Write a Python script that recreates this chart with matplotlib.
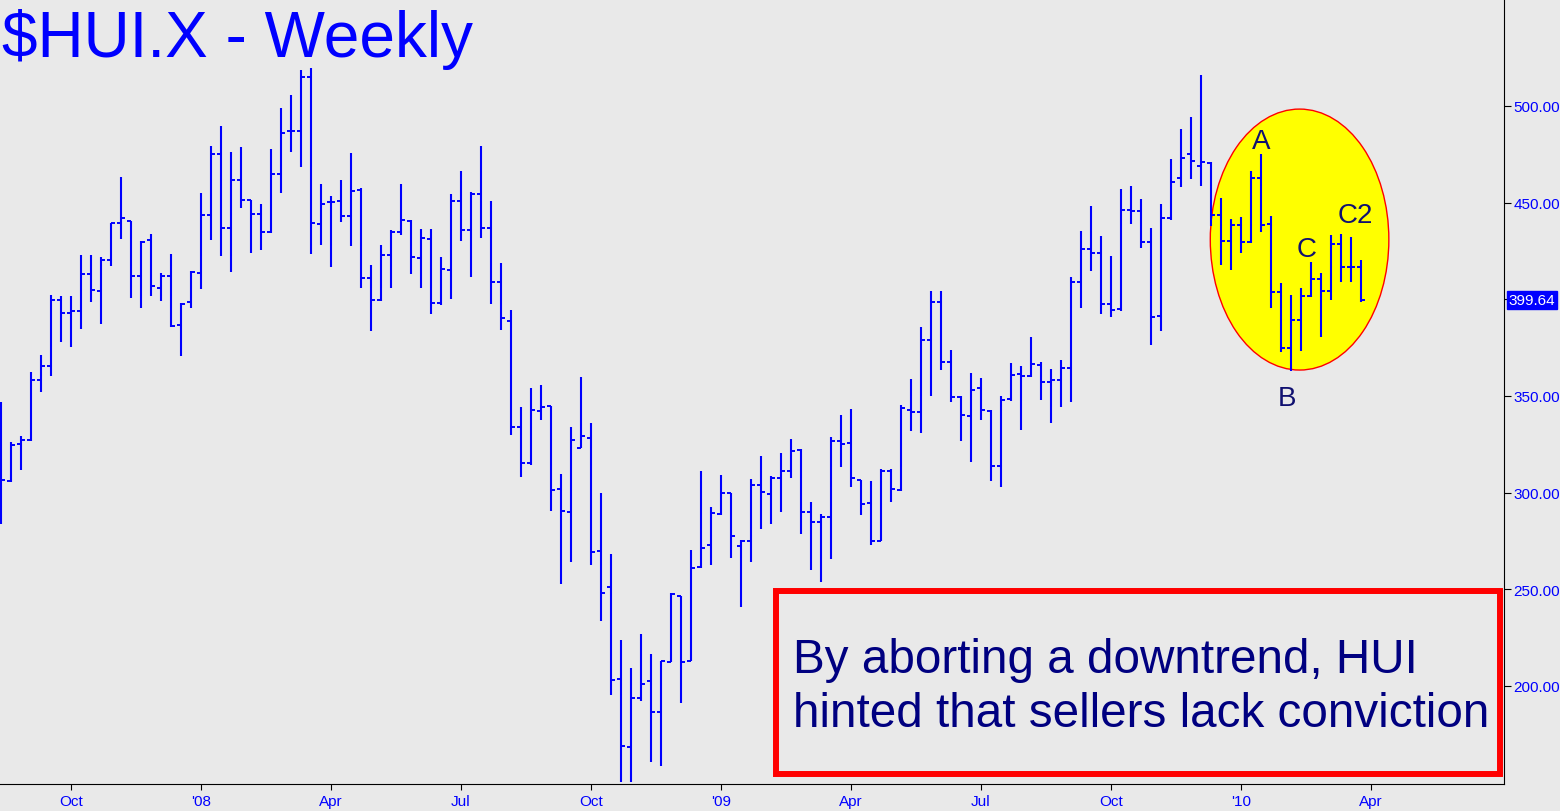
import numpy as np
import pandas as pd
import matplotlib
matplotlib.use("Agg")
import matplotlib.pyplot as plt
import matplotlib.dates as mdates
from matplotlib.patches import Ellipse, Rectangle

plt.rcParams['font.family'] = ['Liberation Sans', 'DejaVu Sans']

# ---------------- data (weekly OHLC, $HUI.X) ----------------
start_date = "2007-08-13"
opens = [330.0, 305.9, 325.2, 327.4, 358.3, 365.5, 399.7, 392.9, 394.0, 413.1,
         404.3, 420.3, 439.5, 440.3, 412.2, 430.7, 405.9, 412.2, 386.9, 398.4,
         413.6, 443.6, 475.2, 436.9, 461.7, 451.6, 444.3, 434.7, 464.8, 487.2,
         486.9, 515.2, 439.0, 450.5, 451.0, 443.3, 456.7, 410.9, 399.7, 422.9,
         434.7, 440.7, 421.4, 431.2, 397.9, 415.2, 451.0, 436.0, 454.5, 436.9,
         409.1, 389.0, 334.1, 315.3, 342.4, 344.6, 301.9, 289.8, 323.3, 328.1,
         270.0, 251.4, 203.6, 168.6, 193.8, 202.7, 186.7, 212.6, 246.4, 213.1,
         261.4, 272.9, 289.0, 299.6, 272.6, 275.2, 303.9, 299.3, 307.4, 311.4,
         322.2, 290.1, 285.0, 287.5, 326.9, 325.5, 306.5, 294.6, 275.2, 311.4,
         301.4, 342.7, 341.9, 379.1, 398.4, 367.7, 349.6, 339.8, 353.9, 342.4,
         313.9, 348.4, 361.4, 360.2, 366.0, 357.4, 358.3, 364.5, 409.1, 426.0,
         423.9, 397.6, 395.0, 446.4, 445.9, 429.8, 391.2, 441.9, 462.8, 475.2,
         469.1, 470.5, 443.8, 430.0, 438.5, 429.5, 462.8, 439.0, 403.6, 374.6,
         389.5, 401.6, 410.5, 404.1, 428.6, 416.6, 416.6]
highs = [346.7, 326.0, 329.1, 362.2, 371.2, 402.2, 401.6, 401.6, 422.9, 422.9,
         421.7, 439.5, 463.3, 440.3, 430.0, 433.6, 413.5, 423.4, 397.9, 414.5,
         455.0, 479.1, 489.5, 476.0, 478.6, 451.6, 449.1, 477.8, 498.8, 505.7,
         518.6, 519.7, 459.7, 453.6, 461.7, 475.7, 457.4, 417.8, 428.1, 435.7,
         459.7, 441.0, 436.4, 436.4, 422.1, 454.5, 466.2, 455.3, 479.1, 450.7,
         418.6, 394.5, 344.1, 354.1, 355.7, 344.6, 309.5, 333.8, 359.6, 336.0,
         299.8, 268.3, 223.8, 209.3, 226.9, 216.5, 213.1, 247.9, 246.4, 270.3,
         311.0, 292.4, 309.1, 299.6, 275.5, 307.0, 319.1, 308.4, 320.5, 327.7,
         322.6, 295.0, 289.0, 329.0, 340.2, 343.3, 306.5, 306.2, 312.2, 312.2,
         345.3, 358.8, 385.5, 404.1, 404.1, 373.8, 350.2, 361.7, 359.3, 342.7,
         350.2, 366.9, 365.7, 380.3, 367.4, 363.9, 368.6, 411.4, 435.2, 448.4,
         432.6, 422.6, 457.1, 458.8, 451.9, 436.9, 449.3, 472.6, 488.1, 494.1,
         516.0, 471.2, 452.4, 441.6, 442.4, 466.5, 475.2, 442.9, 408.4, 402.2,
         405.7, 419.1, 413.4, 433.3, 433.8, 432.4, 420.3]
lows = [283.8, 305.3, 311.9, 326.9, 352.3, 360.5, 378.1, 375.5, 384.6, 398.8,
        387.4, 417.4, 431.2, 400.7, 395.5, 401.9, 399.1, 385.9, 370.9, 395.5,
        405.3, 430.9, 422.6, 414.3, 447.3, 423.8, 425.7, 434.1, 455.0, 476.0,
        468.6, 423.6, 428.3, 416.9, 440.2, 427.8, 405.7, 383.8, 399.3, 406.0,
        433.3, 413.1, 405.9, 392.4, 397.2, 400.2, 430.3, 411.7, 431.7, 397.6,
        384.1, 330.0, 308.3, 314.5, 337.8, 290.7, 252.7, 264.3, 322.9, 262.7,
        233.8, 195.5, 150.2, 150.5, 192.1, 160.5, 158.4, 212.2, 191.0, 213.1,
        261.0, 262.7, 288.6, 266.0, 241.0, 264.3, 281.2, 283.8, 290.1, 307.6,
        278.6, 260.0, 254.0, 265.7, 313.4, 303.1, 288.6, 273.1, 274.8, 295.0,
        300.7, 332.0, 330.7, 350.2, 363.6, 347.1, 326.9, 315.7, 337.7, 306.2,
        302.7, 347.6, 332.6, 359.6, 348.1, 335.8, 344.1, 346.7, 395.3, 414.8,
        392.4, 390.7, 394.1, 439.0, 426.5, 376.5, 383.8, 441.2, 458.3, 462.2,
        458.8, 438.1, 417.9, 415.3, 424.0, 429.0, 434.7, 395.5, 372.6, 362.8,
        373.4, 401.0, 380.3, 399.8, 408.8, 408.8, 398.4]
closes = [306.5, 324.8, 327.2, 358.5, 365.5, 399.7, 392.9, 394.0, 413.1, 404.8,
          420.3, 439.5, 442.1, 412.2, 429.5, 406.7, 412.2, 386.4, 397.6, 414.1,
          443.6, 475.2, 436.9, 461.7, 451.4, 444.0, 434.8, 464.8, 486.0, 487.2,
          515.2, 439.3, 449.3, 450.5, 443.3, 456.2, 410.9, 399.7, 422.9, 435.0,
          441.2, 422.1, 431.7, 398.1, 415.7, 451.0, 436.0, 454.5, 436.9, 408.8,
          390.3, 334.1, 315.3, 342.8, 344.5, 301.4, 290.3, 327.4, 329.1, 269.5,
          248.1, 203.1, 169.1, 193.8, 201.0, 186.7, 212.7, 247.4, 212.6, 261.0,
          271.4, 289.3, 299.6, 277.7, 275.2, 303.9, 300.5, 307.4, 311.4, 321.7,
          290.1, 284.6, 287.5, 326.5, 325.2, 307.6, 294.1, 275.2, 311.4, 301.9,
          343.6, 341.9, 379.1, 398.4, 367.7, 349.6, 340.3, 353.3, 342.7, 313.9,
          348.1, 360.8, 360.5, 366.5, 357.4, 358.3, 364.5, 409.1, 426.0, 423.9,
          397.6, 394.7, 446.2, 445.9, 429.8, 391.0, 442.1, 460.9, 472.9, 471.7,
          470.9, 443.8, 430.3, 438.5, 429.8, 462.8, 438.5, 404.0, 374.6, 389.5,
          401.9, 410.5, 404.1, 428.6, 416.6, 416.6, 399.64]

y_ticks = [200, 250, 300, 350, 400, 450, 500]
# month ticks sit on the weekly bar containing the 1st of the month
x_tick_dates = ["2007-10-01", "2007-12-31", "2008-03-31", "2008-06-30", "2008-09-29",
                "2008-12-29", "2009-03-30", "2009-06-29", "2009-09-28", "2009-12-28",
                "2010-03-29"]
x_tick_labels = ["Oct", "'08", "Apr", "Jul", "Oct", "'09", "Apr", "Jul", "Oct", "'10", "Apr"]

title_text = "$HUI.X - Weekly"
note_lines = ["By aborting a downtrend, HUI", "hinted that sellers lack conviction"]
wave_labels = ["A", "B", "C", "C2"]
wave_dates = ["2010-01-11", "2010-01-29", "2010-02-12", "2010-03-18"]
wave_prices = [481.8, 348.7, 426.1, 443.6]
ellipse_date = "2010-02-07"
ellipse_price = 430.9
last_price = closes[-1]

# ---------------- figure ----------------
BG = "#E9E9E9"
BLUE = "#0000FF"
NAVY = "#000080"
W, H = 1560, 812
fig = plt.figure(figsize=(W / 100, H / 100), dpi=100, facecolor=BG)
ax = fig.add_axes([0, 27 / H, 1504 / W, 785 / H], facecolor=BG)

n = len(closes)
dates = pd.date_range(start_date, periods=n, freq="7D")
x = mdates.date2num(dates.to_pydatetime())
tick_off = 2.6  # days

# yellow ellipse
ax.add_patch(Ellipse((mdates.date2num(pd.Timestamp(ellipse_date)), ellipse_price),
                     width=125.0, height=135.0,
                     facecolor="#FFFF00", edgecolor="#FF0000", lw=1.0, zorder=1))

ax.vlines(x, lows, highs, color=BLUE, lw=1.5, zorder=3)
ax.hlines(opens, x - tick_off, x, color=BLUE, lw=1.4, zorder=3)
ax.hlines(closes, x, x + tick_off, color=BLUE, lw=1.4, zorder=3)

for lab, d, p in zip(wave_labels, wave_dates, wave_prices):
    ax.text(mdates.date2num(pd.Timestamp(d)), p, lab, color="#101070", fontsize=20,
            ha="center", va="center", zorder=4)

x0 = x[0] - 0.7
x1 = x[0] + 150.3 * 7
ax.set_xlim(x0, x1)
ax.set_ylim(149.25, 555.35)

ax.spines["top"].set_visible(False)
ax.spines["left"].set_visible(False)
ax.spines["right"].set_color("black")
ax.spines["bottom"].set_color("black")

ax.yaxis.tick_right()
ax.set_yticks(y_ticks[:])
ax.set_yticklabels([f"{v:.2f}" if v != 400 else "" for v in y_ticks])
ax.tick_params(axis="y", direction="out", length=5, color="black", labelcolor=BLUE,
               labelsize=11, pad=2)
ax.set_xticks([mdates.date2num(pd.Timestamp(d)) for d in x_tick_dates])
ax.set_xticklabels(x_tick_labels)
ax.tick_params(axis="x", direction="out", length=4, color="black", labelcolor=BLUE,
               labelsize=11, pad=3)

# last price tag
ax.text(1.003, last_price, f"{last_price:.2f}", transform=ax.get_yaxis_transform(),
        color="white", fontsize=11, va="center", ha="left", zorder=6, clip_on=False,
        bbox=dict(boxstyle="square,pad=0.12", facecolor=BLUE, edgecolor=BLUE))

# title
fig.text(2 / W, 1 - 57 / H, title_text, color=BLUE, fontsize=46, ha="left", va="baseline")

# note box
fig.patches.append(Rectangle((776 / W, 1 - 775 / H), 724 / W, 183 / H,
                             transform=fig.transFigure, facecolor=BG,
                             edgecolor="#FF0000", lw=4.3, zorder=5))
fig.text(793 / W, 1 - 673 / H, note_lines[0], color=NAVY, fontsize=34.3,
         ha="left", va="baseline", zorder=6)
fig.text(793 / W, 1 - 727 / H, note_lines[1], color=NAVY, fontsize=34.3,
         ha="left", va="baseline", zorder=6)

fig.savefig("out.png", dpi=100, facecolor=BG)
